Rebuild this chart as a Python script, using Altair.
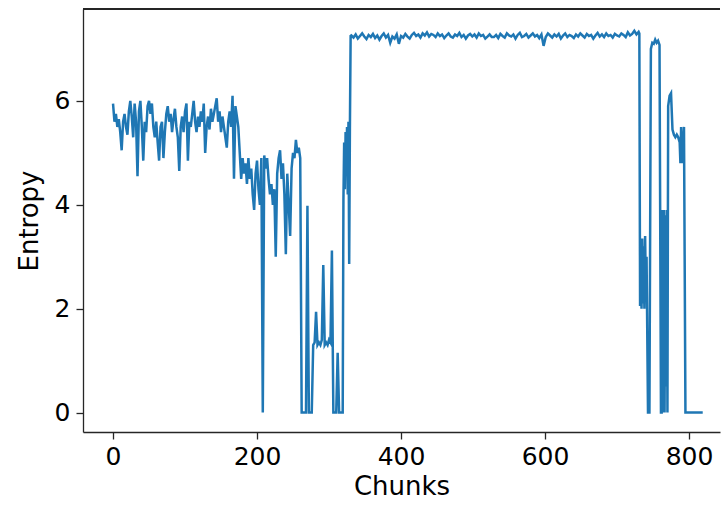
import altair as alt
import pandas as pd

# ---- data ----
seg_a_start, seg_a_step = 0, 2
seg_a = [5.95, 5.6, 5.75, 5.5, 5.65, 5.4, 5.05, 5.6, 5.75, 5.5,
         5.35, 5.8, 6.0, 5.7, 5.3, 5.95, 5.6, 4.55, 5.8, 6.0,
         5.5, 4.85, 5.6, 5.4, 5.9, 6.0, 5.75, 5.95, 5.5, 5.3,
         5.6, 5.2, 4.85, 5.5, 5.6, 4.9, 5.4, 5.75, 5.9, 5.6,
         5.75, 5.4, 5.65, 5.85, 5.5, 5.3, 4.65, 5.5, 5.7, 5.4,
         5.8, 5.95, 4.85, 5.6, 5.5, 5.75, 6.0, 5.6, 5.4, 5.7,
         5.5, 5.8, 5.6, 5.95, 5.0, 5.5, 5.7, 5.45, 5.85, 5.6,
         5.75, 5.9, 6.05, 5.6, 5.8, 5.4, 5.7, 5.5, 5.3, 5.1,
         5.6, 5.8, 5.5, 6.1, 4.5, 5.9, 5.7, 5.5, 5.0]

seg_b_start, seg_b_step = 178, 2
seg_b = [4.5, 4.9, 4.6, 4.8, 4.4, 4.9, 4.5, 4.7, 4.2, 3.9,
         4.6, 4.85, 4.3, 4.0, 4.9, 0.0, 4.95, 4.7, 4.9, 4.5,
         4.2, 4.4, 4.0, 4.3, 3.0, 4.6, 4.9, 5.05, 4.5, 4.8,
         4.2, 3.05, 4.6, 4.0, 3.4, 4.7, 5.0, 4.9, 5.25, 5.0,
         5.1, 4.9, 0.0]

seg_c_x = [264, 266, 268, 270, 272, 274, 276, 278, 280, 282,
           284, 286, 288, 290, 292, 294, 296, 298, 300, 302,
           304, 306, 308, 310, 312, 314, 316, 318, 319, 320,
           321, 322, 323, 324, 325, 326, 327, 328, 329, 330]
seg_c = [0, 0, 0, 3.98, 0, 0, 0, 1.3, 1.35, 1.94,
         1.3, 1.35, 1.3, 1.4, 2.84, 1.3, 1.35, 1.3, 1.4, 1.35,
         3.12, 0, 0, 0, 1.15, 0, 0, 0, 0, 4.1,
         5.2, 4.3, 5.4, 4.6, 5.5, 4.2, 5.6, 2.86, 5.5, 7.25]

seg_d_start, seg_d_step = 331, 3
seg_d = [7.26, 7.22, 7.28, 7.2, 7.25, 7.3, 7.24, 7.19, 7.27, 7.23,
         7.29, 7.21, 7.26, 7.18, 7.25, 7.3, 7.22, 7.27, 7.12, 7.24,
         7.2, 7.28, 7.1, 7.25, 7.22, 7.29, 7.24, 7.2, 7.27, 7.31,
         7.25, 7.28, 7.22, 7.3, 7.26, 7.32, 7.24, 7.29, 7.27, 7.23,
         7.3, 7.25, 7.28, 7.21, 7.26, 7.3, 7.24, 7.22, 7.28, 7.25,
         7.31, 7.23, 7.27, 7.2, 7.26, 7.29, 7.24, 7.28, 7.22, 7.3,
         7.25, 7.27, 7.2, 7.24, 7.28, 7.23, 7.23, 7.27, 7.21, 7.29,
         7.25, 7.22, 7.3, 7.26, 7.24, 7.28, 7.2, 7.27, 7.31, 7.23,
         7.25, 7.29, 7.22, 7.26, 7.3, 7.24, 7.27, 7.21, 7.28, 7.06,
         7.23, 7.3, 7.26, 7.22, 7.28, 7.24, 7.29, 7.2, 7.26, 7.3,
         7.23, 7.27, 7.25, 7.21, 7.28, 7.24, 7.3, 7.26, 7.22, 7.29,
         7.25, 7.27, 7.2, 7.26, 7.31, 7.24, 7.28, 7.23, 7.3, 7.25,
         7.27, 7.22, 7.29, 7.26, 7.24, 7.3, 7.27, 7.23, 7.32, 7.26,
         7.29, 7.35, 7.28, 7.33]

seg_e_x = [731, 732, 733, 734, 735, 736, 737, 738, 739, 740,
           741, 743, 745, 747, 749, 751, 753, 755, 757, 759,
           761, 762, 763, 764, 765, 766, 767, 768, 769, 770,
           771, 773, 775, 777, 779, 781, 783, 785, 787, 788,
           789, 790, 791, 793, 795, 800, 805, 810, 815, 819]
seg_e = [7.3, 2.05, 3.3, 2.0, 3.35, 2.1, 3.2, 2.0, 3.4, 2.3,
         3.0, 0, 0, 7.0, 7.12, 7.1, 7.18, 7.12, 7.16, 7.08,
         0, 0, 3.9, 0, 3.9, 0, 3.8, 0.5, 3.9, 0,
         5.9, 6.1, 6.15, 5.45, 5.35, 5.3, 5.35, 5.3, 5.2, 4.8,
         5.5, 4.8, 5.0, 5.5, 0, 0, 0, 0, 0, 0]

x_ticks = [0, 200, 400, 600, 800]
y_ticks = [0, 2, 4, 6]

chunks, entropy = [], []
for start, step, vals in [(seg_a_start, seg_a_step, seg_a), (seg_b_start, seg_b_step, seg_b)]:
    chunks += [start + step * i for i in range(len(vals))]
    entropy += vals
chunks += seg_c_x
entropy += seg_c
chunks += [seg_d_start + seg_d_step * i for i in range(len(seg_d))]
entropy += seg_d
chunks += seg_e_x
entropy += seg_e

df = pd.DataFrame({"Chunks": chunks, "Entropy": entropy})

FONT = "DejaVu Sans"
W, H = 637, 423

line = alt.Chart(df).mark_line(color="#1f77b4", strokeWidth=2.5).encode(
    x=alt.X("Chunks:Q",
            scale=alt.Scale(domain=[-41.7, 843], nice=False, zero=False),
            axis=alt.Axis(values=x_ticks, title="Chunks", grid=False,
                          labelFontSize=25, titleFontSize=26, labelPadding=5,
                          titlePadding=4, tickSize=7, tickWidth=1.3,
                          domainWidth=1.3, labelFlush=False)),
    y=alt.Y("Entropy:Q",
            scale=alt.Scale(domain=[-0.374, 7.77], nice=False, zero=False),
            axis=alt.Axis(values=y_ticks, title="Entropy", grid=False,
                          labelFontSize=25, titleFontSize=26, labelPadding=6,
                          titlePadding=12, tickSize=7, tickWidth=1.3,
                          domainWidth=1.3, labelFlush=False)),
)

top = alt.Chart(df).mark_rule(color="#262626", strokeWidth=1.3).encode(
    x=alt.value(0), x2=alt.value(W), y=alt.value(0)
)

chart = alt.layer(line, top).properties(
    width=W, height=H,
    autosize=alt.AutoSizeParams(type="none"),
    padding={"left": 83, "top": 9, "right": 1, "bottom": 77},
).configure_view(stroke=None).configure_axis(
    labelFont=FONT, titleFont=FONT, labelColor="#000000", titleColor="#000000",
    domainColor="#262626", tickColor="#262626", titleFontWeight="normal",
)

chart.save("out.html", embed_options={"renderer": "svg", "actions": False})
